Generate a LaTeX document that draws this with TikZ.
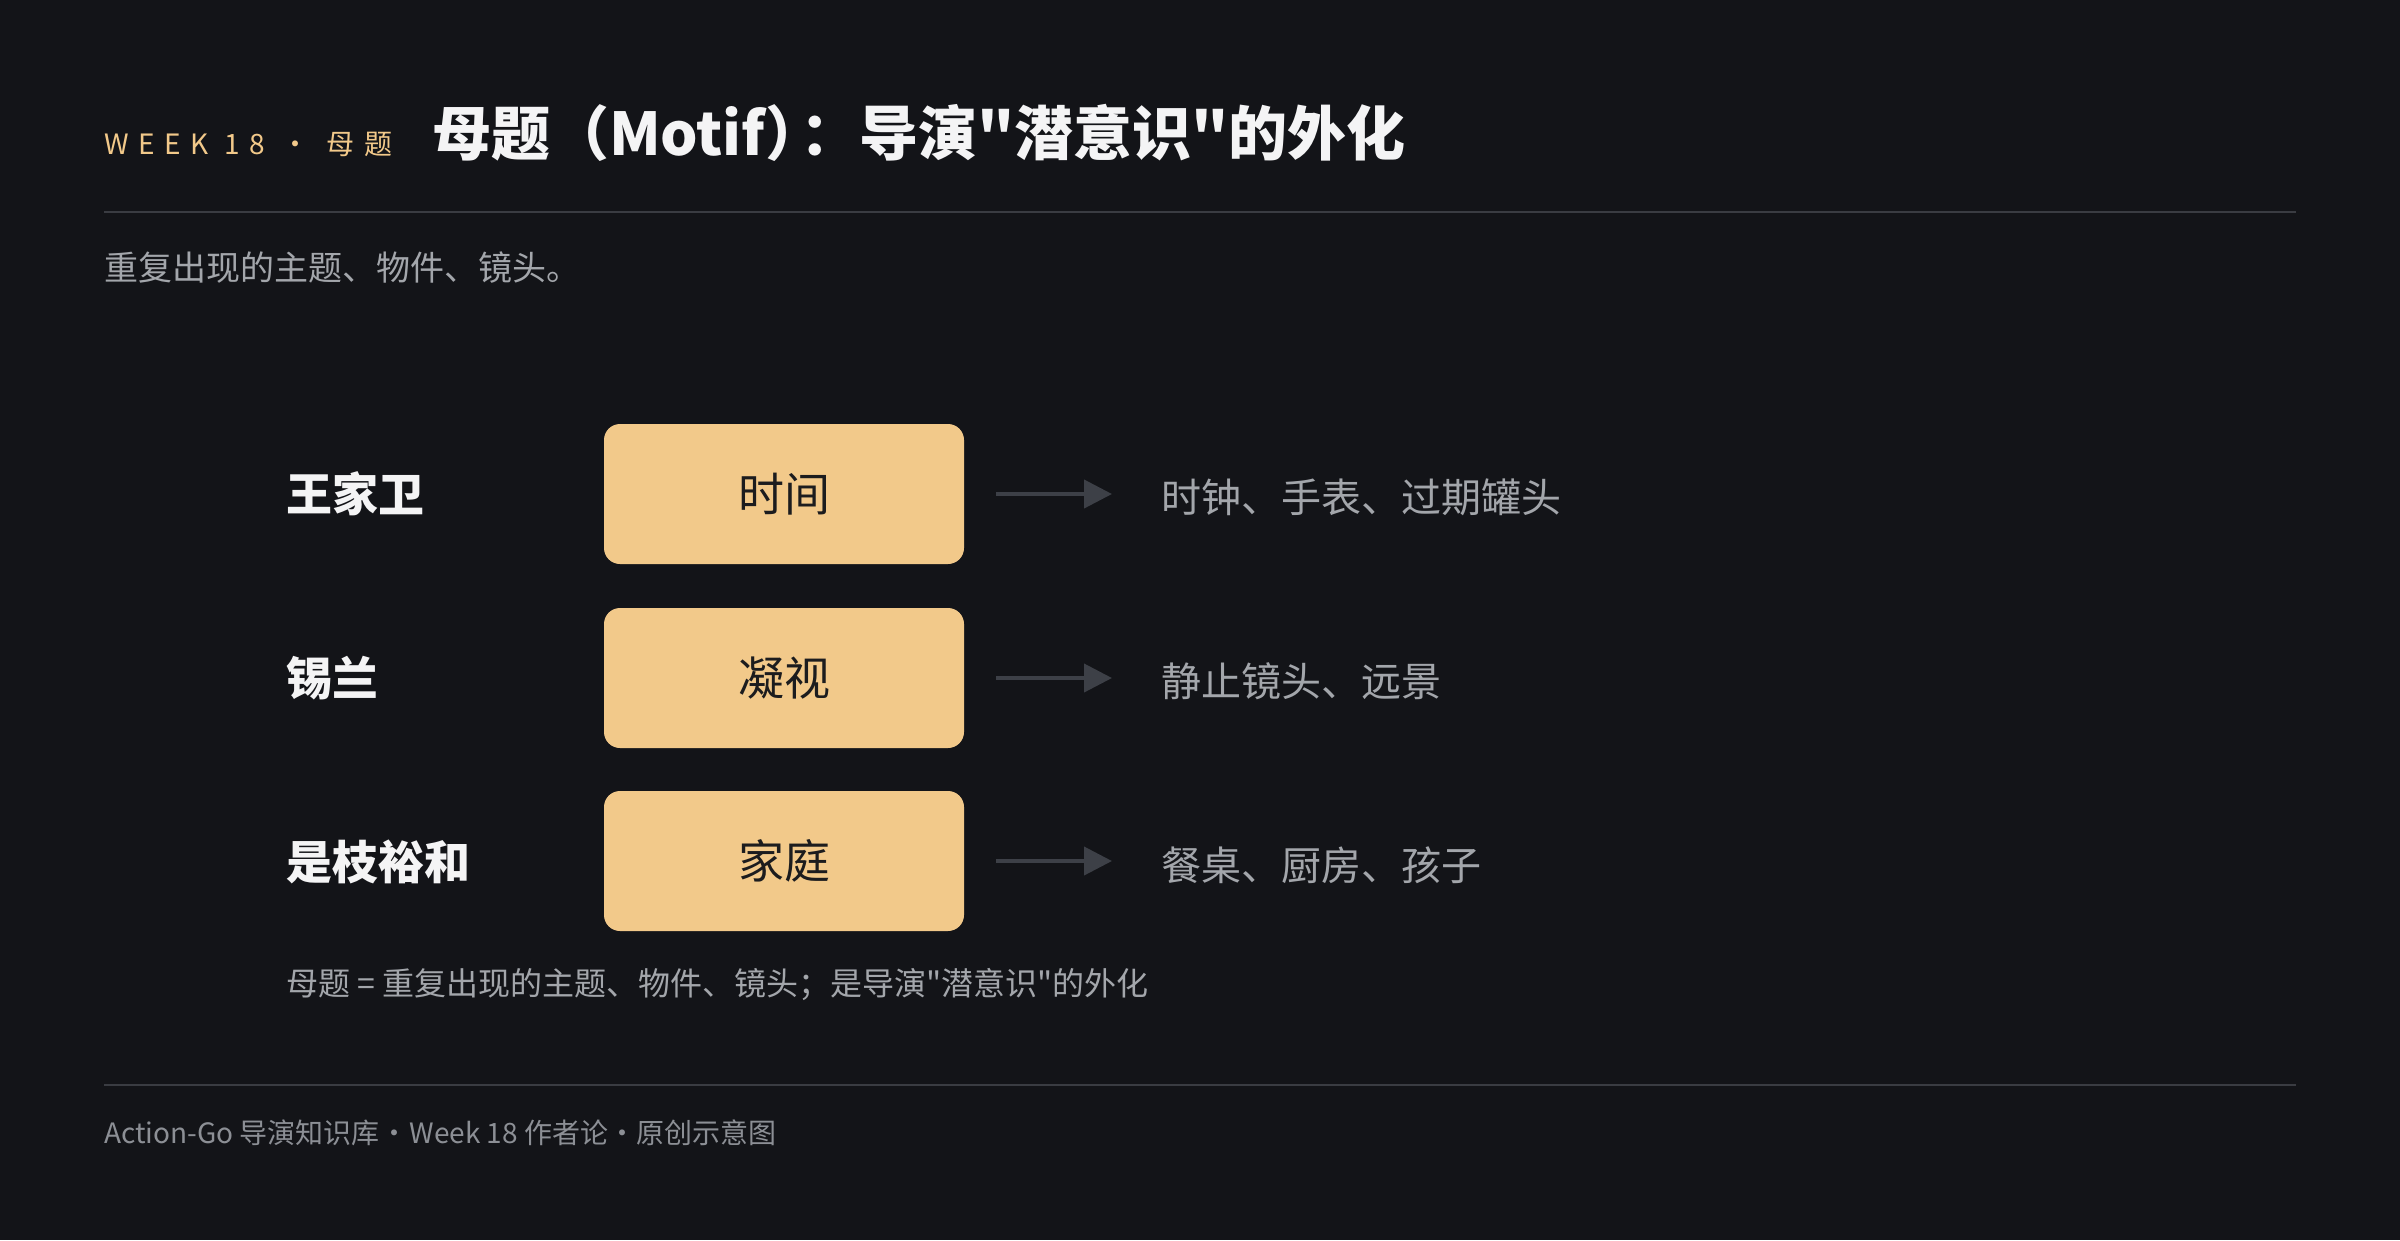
\documentclass[tikz,border=0pt]{standalone}
\usepackage{fontspec}
\setmainfont{Noto Sans CJK SC}[Ligatures=TeXOff]
\newfontfamily\weekfont{Noto Sans CJK SC}[LetterSpace=34,Ligatures=TeXOff]
\usetikzlibrary{arrows.meta}
\definecolor{bg}{HTML}{131418}
\definecolor{gold}{HTML}{F2C98A}
\definecolor{titlec}{HTML}{F4F4F5}
\definecolor{graytext}{HTML}{A3A6AB}
\definecolor{foottext}{HTML}{8C8F95}
\definecolor{rulec}{HTML}{3A3C42}
\definecolor{arrowc}{HTML}{3D4047}
\definecolor{boxtext}{HTML}{1C1C1E}
\tikzset{
  txt/.style={anchor=west, inner sep=0pt, outer sep=0pt},
  rowlabel/.style={txt, text=titlec, font=\fontsize{46}{54}\selectfont\bfseries},
  motifbox/.style={draw=none, fill=gold, rounded corners=16pt, minimum width=360pt, minimum height=140pt, inner sep=0pt, text=boxtext, font=\fontsize{46}{54}\selectfont},
  targettext/.style={txt, text=graytext, font=\fontsize{40}{48}\selectfont},
  conn/.style={draw=arrowc, line width=4pt, -{Triangle[length=28pt,width=28pt]}},
  rulel/.style={draw=rulec, line width=2pt}
}
\begin{document}
\begin{tikzpicture}[x=1pt, y=-1pt]
\fill[bg] (0,0) rectangle (2400,1240);
\useasboundingbox (0,0) rectangle (2400,1240);
% header
\node[txt, text=gold, font=\fontsize{28}{34}\selectfont] (week) at (104,144) {{\weekfont WEEK 18}\makebox[62pt]{·}{\weekfont 母题}};
\node[txt, text=titlec, font=\fontsize{59}{70}\selectfont\bfseries] (title) at (432,133) {母题（Motif）\hspace{-24pt}：导演"潜意识"的外化};
\coordinate (r1a) at (104,212);
\coordinate (r1b) at (2296,212);
\draw[rulel] (r1a) -- (r1b);
\node[txt, text=graytext, font=\fontsize{34}{40}\selectfont] (sub) at (104,268) {重复出现的主题、物件、镜头。};
% rows
\node[rowlabel] (l1) at (286,494) {王家卫};
\node[rowlabel] (l2) at (286,678) {锡兰};
\node[rowlabel] (l3) at (286,862) {是枝裕和};
\node[motifbox] (b1) at (784,494) {时间};
\node[motifbox] (b2) at (784,678) {凝视};
\node[motifbox] (b3) at (784,861) {家庭};
\node[targettext] (t1) at (1161,497) {时钟、手表、过期罐头};
\node[targettext] (t2) at (1161,681) {静止镜头、远景};
\node[targettext] (t3) at (1161,865) {餐桌、厨房、孩子};
\draw[conn] ([xshift=32pt]b1.east) -- ([xshift=-49pt]t1.west |- b1.east);
\draw[conn] ([xshift=32pt]b2.east) -- ([xshift=-49pt]t2.west |- b2.east);
\draw[conn] ([xshift=32pt]b3.east) -- ([xshift=-49pt]t3.west |- b3.east);
\node[txt, text=graytext, font=\fontsize{32}{38}\selectfont] (note) at (286,984) {母题 = 重复出现的主题、物件、镜头；是导演"潜意识"的外化};
% footer
\coordinate (r2a) at (104,1085);
\coordinate (r2b) at (2296,1085);
\draw[rulel] (r2a) -- (r2b);
\node[txt, text=foottext, font=\fontsize{28}{34}\selectfont] (foot) at (104,1133) {Action-Go 导演知识库\makebox[30pt]{·}Week 18 作者论\makebox[28pt]{·}原创示意图};
\end{tikzpicture}
\end{document}
